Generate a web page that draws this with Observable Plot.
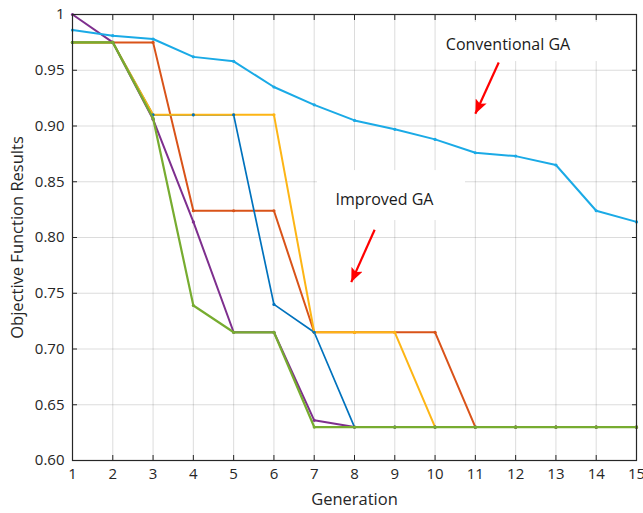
<!DOCTYPE html>
<html><head><meta charset="utf-8">
<script src="https://cdn.jsdelivr.net/npm/d3@7"></script>
<script src="https://cdn.jsdelivr.net/npm/@observablehq/plot@0.6"></script>
<style>body{margin:0;background:#fff}</style>
</head><body><div id="chart"></div>
<script>
// ---- data ----
const generations = [1,2,3,4,5,6,7,8,9,10,11,12,13,14,15];
const conventionalGA = [0.986,0.981,0.978,0.962,0.958,0.935,0.919,0.905,0.897,0.888,0.876,0.873,0.865,0.824,0.814];
const improvedRunBlue   = [0.975,0.975,0.910,0.910,0.910,0.740,0.715,0.630,0.630,0.630,0.630,0.630,0.630,0.630,0.630];
const improvedRunOrange = [0.975,0.975,0.975,0.824,0.824,0.824,0.715,0.715,0.715,0.715,0.630,0.630,0.630,0.630,0.630];
const improvedRunYellow = [0.975,0.975,0.910,0.910,0.910,0.910,0.715,0.715,0.715,0.630,0.630,0.630,0.630,0.630,0.630];
const improvedRunPurple = [1.000,0.975,0.906,0.814,0.715,0.715,0.636,0.630,0.630,0.630,0.630,0.630,0.630,0.630,0.630];
const improvedRunGreen  = [0.975,0.975,0.907,0.739,0.715,0.715,0.630,0.630,0.630,0.630,0.630,0.630,0.630,0.630,0.630];
const xTicks = [1,2,3,4,5,6,7,8,9,10,11,12,13,14,15];
const yTicks = [0.60,0.65,0.70,0.75,0.80,0.85,0.90,0.95,1.00];
const yTickLabels = ["0.60","0.65","0.70","0.75","0.80","0.85","0.90","0.95","1"];
const xAxisTitle = "Generation";
const yAxisTitle = "Objective Function Results";
// annotations (data units)
const annotationText = ["Conventional GA","Improved GA"];
const annotationGen  = [11.81, 8.745];
const annotationVal  = [0.973, 0.834];
const boxGen1 = [10.06, 7.08], boxGen2 = [14.06, 10.755];
const boxVal1 = [0.9578, 0.8152], boxVal2 = [0.9928, 0.860];
const arrowGen1 = [11.58, 8.50], arrowVal1 = [0.957, 0.807];
const arrowGen2 = [11.00, 7.92], arrowVal2 = [0.911, 0.760];

// ---- styling ----
const S = {
  orange: {values: improvedRunOrange, color:"#D95319", width:2},
  blue:   {values: improvedRunBlue,   color:"#0072BD", width:1.7},
  yellow: {values: improvedRunYellow, color:"#FDB515", width:2},
  purple: {values: improvedRunPurple, color:"#7E2F8E", width:2},
  conv:   {values: conventionalGA,    color:"#1AAAE6", width:2},
  green:  {values: improvedRunGreen,  color:"#77AC30", width:2.2}
};
// drawing order: [series, part]
const order = [["orange","line"],["orange","dot"],["blue","line"],["yellow","line"],["yellow","dot"],["blue","dot"],
               ["purple","line"],["purple","dot"],["conv","line"],["conv","dot"],["green","line"],["green","dot"]];
const font = "'Open Sans', sans-serif";
const axisColor = "#262626";

const filledArrow = (color, context) => {
  const ns = "http://www.w3.org/2000/svg";
  const m = document.createElementNS(ns, "marker");
  m.setAttribute("viewBox", "-14 -6 14 12");
  m.setAttribute("markerWidth", 14);
  m.setAttribute("markerHeight", 12);
  m.setAttribute("markerUnits", "userSpaceOnUse");
  m.setAttribute("orient", "auto");
  m.setAttribute("refX", 0);
  m.setAttribute("refY", 0);
  const p = document.createElementNS(ns, "path");
  p.setAttribute("d", "M0,0L-14,-6L-11,0L-14,6Z");
  p.setAttribute("fill", color);
  p.setAttribute("stroke", "none");
  m.appendChild(p);
  return m;
};

const idx = annotationText.map((_, i) => i);

const marks = [
  Plot.gridX(xTicks, {stroke: axisColor, strokeOpacity: 0.16}),
  Plot.gridY(yTicks, {stroke: axisColor, strokeOpacity: 0.16}),
  Plot.rect(idx, {x1: i => boxGen1[i], x2: i => boxGen2[i], y1: i => boxVal1[i], y2: i => boxVal2[i], fill: "white"}),
];
for (const [k, part] of order) {
  const s = S[k];
  if (part === "line") marks.push(Plot.line(generations, {x: d => d, y: (d, i) => s.values[i], stroke: s.color, strokeWidth: s.width}));
  else marks.push(Plot.dot(generations, {x: d => d, y: (d, i) => s.values[i], fill: s.color, r: 1.6}));
}
marks.push(
  Plot.text(idx, {x: i => annotationGen[i], y: i => annotationVal[i], text: i => annotationText[i], fontSize: 16, fill: "#1a1a1a", fontFamily: font}),
  Plot.link(idx, {x1: i => arrowGen1[i], y1: i => arrowVal1[i], x2: i => arrowGen2[i], y2: i => arrowVal2[i], stroke: "#FF0000", strokeWidth: 2.2, markerEnd: filledArrow}),
  Plot.frame({stroke: axisColor, strokeWidth: 1.2}),
  Plot.axisX(xTicks, {anchor: "bottom", tickSize: -5, tickPadding: 13, fontSize: 15, stroke: axisColor, fill: axisColor, label: null}),
  Plot.axisX(xTicks, {anchor: "top", tickSize: -5, tickFormat: () => "", stroke: axisColor, label: null}),
  Plot.axisY(yTicks, {anchor: "left", tickSize: -5, tickPadding: 13, fontSize: 15, stroke: axisColor, fill: axisColor, tickFormat: d => yTickLabels[yTicks.indexOf(d)], label: null}),
  Plot.axisY(yTicks, {anchor: "right", tickSize: -5, tickFormat: () => "", stroke: axisColor, label: null}),
  Plot.text([xAxisTitle], {frameAnchor: "bottom", dy: 44, text: d => d, fontSize: 16.5, fill: axisColor, fontFamily: font}),
  Plot.text([yAxisTitle], {frameAnchor: "left", textAnchor: "middle", dx: -55, rotate: -90, text: d => d, fontSize: 16.5, fill: axisColor, fontFamily: font})
);

const chart = Plot.plot({
  width: 643, height: 513,
  marginLeft: 72, marginRight: 7, marginTop: 14, marginBottom: 53,
  x: {domain: [1, 15]},
  y: {domain: [0.6, 1]},
  style: {fontFamily: font, fontSize: "15px", color: axisColor, background: "white"},
  marks
});
document.getElementById("chart").appendChild(chart);
</script>
</body></html>
